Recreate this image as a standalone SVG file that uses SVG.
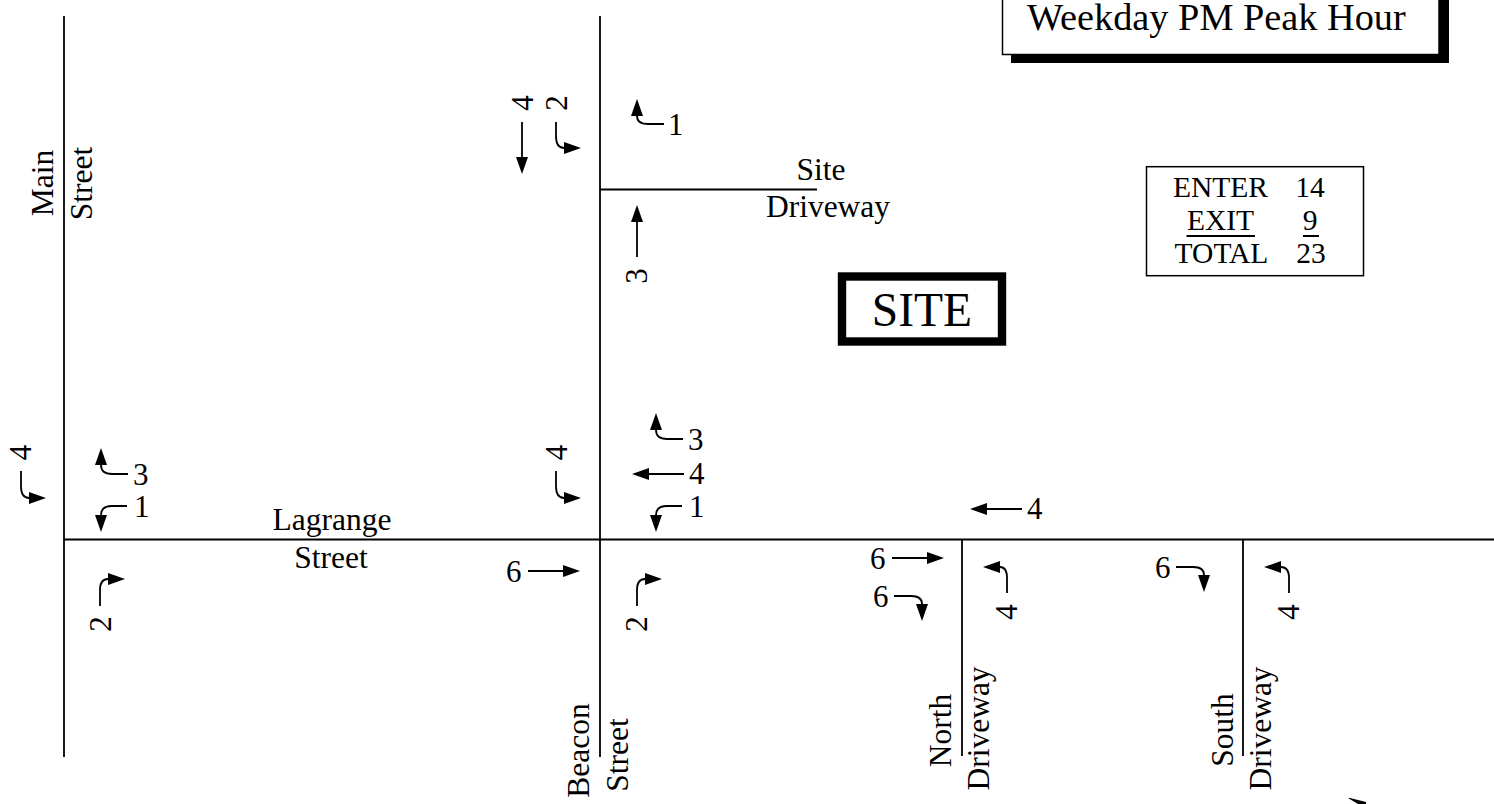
<svg xmlns="http://www.w3.org/2000/svg" width="1494" height="804" viewBox="0 0 1494 804">
<style>
text{font-family:"Liberation Serif","Times New Roman",serif;fill:#000}
.n{font-size:31.5px;text-anchor:middle}
.d{font-size:31px}
.s{font-size:29.5px;text-anchor:middle}
.c{text-anchor:middle}
.road{stroke:#000;stroke-width:1.8;fill:none}
.a{stroke:#000;stroke-width:1.8;fill:none;marker-end:url(#h)}
</style>
<defs>
<marker id="h" markerUnits="userSpaceOnUse" markerWidth="18" markerHeight="14" refX="0" refY="6.5" orient="auto"><path d="M0 .5L17 6.5L0 12.5Z" fill="#000"/></marker>
</defs>
<rect width="1494" height="804" fill="#fff"/>
<g id="roads">
<path class="road" d="M64 16V757M600 16V757M64 539.500H1494M600 189.500H817M962 539V756M1243 539V756"/>
</g>
<g id="connectors">
<path class="a" d="M21 471V486Q21 498 29 498"/>
<path class="a" d="M128 474H112Q101 474 101 465"/>
<path class="a" d="M127 506H112Q101 506 101 515"/>
<path class="a" d="M100 606V590Q100 579 108 579"/>
<path class="a" d="M522 122V157"/>
<path class="a" d="M556 122V136Q556 148 564 148"/>
<path class="a" d="M664 124H648Q637 124 637 116"/>
<path class="a" d="M637 257V222"/>
<path class="a" d="M683 439H667Q656 439 656 430"/>
<path class="a" d="M684 474H649"/>
<path class="a" d="M682 506H667Q656 506 656 515"/>
<path class="a" d="M556 471V486Q556 498 564 498"/>
<path class="a" d="M528 571H563"/>
<path class="a" d="M637 606V590Q637 579 645 579"/>
<path class="a" d="M1022 509H987"/>
<path class="a" d="M892 558H927"/>
<path class="a" d="M894 596H911Q922 596 922 604"/>
<path class="a" d="M1007 593V578Q1007 567 1000 567"/>
<path class="a" d="M1176 567H1193Q1204 567 1204 575"/>
<path class="a" d="M1289 593V578Q1289 567 1281 567"/>
<polygon points="1348,798 1350,798 1366,802 1366,804 1358,804" fill="#000"/>
</g>
<g id="volumes">
<text class="d c" transform="translate(31 452.500) rotate(-90)">4</text>
<text class="d" x="133" y="485">3</text>
<text class="d" x="134" y="517">1</text>
<text class="d c" transform="translate(111 624) rotate(-90)">2</text>
<text class="d c" transform="translate(533 103) rotate(-90)">4</text>
<text class="d c" transform="translate(567 103) rotate(-90)">2</text>
<text class="d" x="668" y="135">1</text>
<text class="d c" transform="translate(647 276) rotate(-90)">3</text>
<text class="d" x="688" y="450">3</text>
<text class="d" x="689" y="484">4</text>
<text class="d" x="689" y="517">1</text>
<text class="d c" transform="translate(567 452.500) rotate(-90)">4</text>
<text class="d" x="506" y="582">6</text>
<text class="d c" transform="translate(647 624) rotate(-90)">2</text>
<text class="d" x="1027" y="519">4</text>
<text class="d" x="870" y="569">6</text>
<text class="d" x="873" y="607">6</text>
<text class="d c" transform="translate(1017 612) rotate(-90)">4</text>
<text class="d" x="1155" y="578">6</text>
<text class="d c" transform="translate(1299 612) rotate(-90)">4</text>
</g>
<g id="street-main"><text class="n" transform="translate(53 183) rotate(-90)">Main</text><text class="n" transform="translate(92 183.500) rotate(-90)">Street</text></g>
<g id="street-beacon"><text class="n" transform="translate(589 750.500) rotate(-90)">Beacon</text><text class="n" transform="translate(628 755) rotate(-90)">Street</text></g>
<g id="street-lagrange"><text class="n" x="332" y="530">Lagrange</text><text class="n" x="331" y="568">Street</text></g>
<g id="site-driveway"><text class="n" x="821" y="180">Site</text><text class="n" x="828" y="217">Driveway</text></g>
<g id="north-driveway"><text class="n" transform="translate(951 730.500) rotate(-90)">North</text><text class="n" transform="translate(989 728.500) rotate(-90)">Driveway</text></g>
<g id="south-driveway"><text class="n" transform="translate(1233 730) rotate(-90)">South</text><text class="n" transform="translate(1271 728.500) rotate(-90)">Driveway</text></g>
<g id="title">
<rect x="1011" y="-10" width="438" height="73" fill="#000"/>
<rect x="1002.500" y="-10" width="436.500" height="64.500" fill="#fff" stroke="#000" stroke-width="1.500"/>
<text x="1027" y="30" font-size="38.300">Weekday PM Peak Hour</text>
</g>
<g id="site">
<rect x="842" y="276.500" width="160" height="65" fill="#fff" stroke="#000" stroke-width="8.400"/>
<text class="c" x="922" y="325.700" font-size="47.500">SITE</text>
</g>
<g id="summary">
<rect x="1146.500" y="166.700" width="217" height="109" fill="#fff" stroke="#000" stroke-width="1.500"/>
<text class="s" x="1220.500" y="197">ENTER</text>
<text class="s" x="1220.500" y="230">EXIT</text>
<text class="s" x="1221.500" y="263">TOTAL</text>
<text class="s" x="1310" y="197">14</text>
<text class="s" x="1310" y="230">9</text>
<text class="s" x="1311" y="263">23</text>
<path class="road" d="M1186.500 236H1255M1303 236H1319"/>
</g>
</svg>
